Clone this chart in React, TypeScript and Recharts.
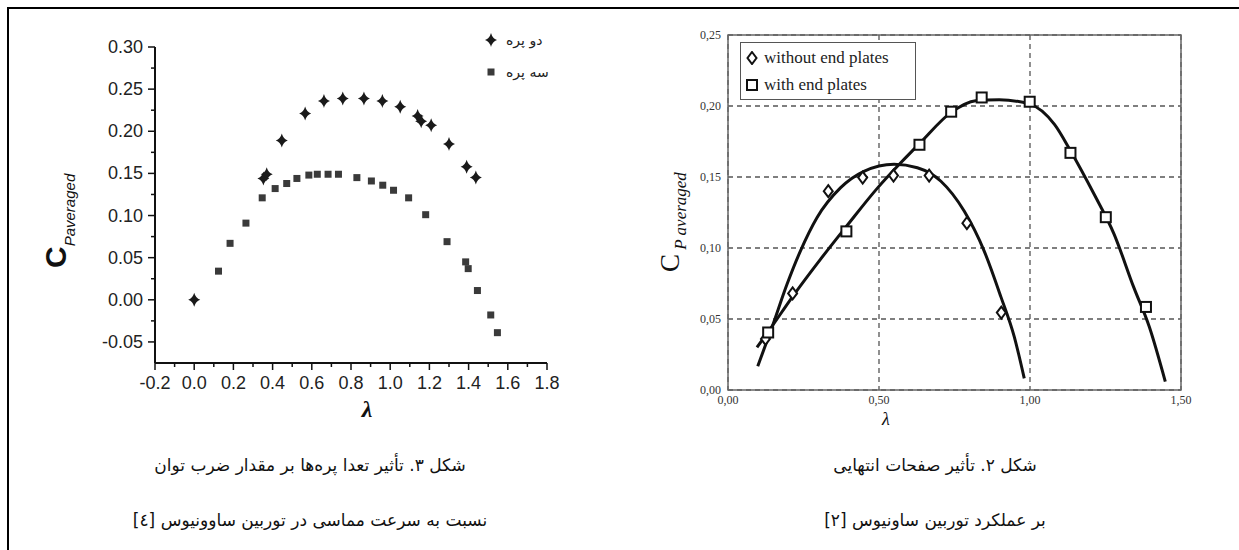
import React from "react";
import { ScatterChart, Scatter, XAxis, YAxis, CartesianGrid, ReferenceArea } from "recharts";

// شکل ۳ — two-blade vs three-blade rotor
const twoBladeLambda = [0.0, 0.353, 0.37, 0.447, 0.566, 0.662, 0.758, 0.866, 0.96, 1.051, 1.14, 1.158, 1.209, 1.3, 1.39, 1.437];
const twoBladeCp = [0.0, 0.144, 0.149, 0.189, 0.221, 0.236, 0.239, 0.239, 0.236, 0.229, 0.218, 0.212, 0.207, 0.185, 0.158, 0.145];
const threeBladeLambda = [0.124, 0.183, 0.264, 0.347, 0.413, 0.472, 0.524, 0.585, 0.628, 0.683, 0.736, 0.83, 0.904, 0.962, 1.017, 1.094, 1.181, 1.29, 1.385, 1.398, 1.445, 1.513, 1.547];
const threeBladeCp = [0.034, 0.067, 0.091, 0.121, 0.132, 0.138, 0.144, 0.148, 0.149, 0.149, 0.149, 0.145, 0.141, 0.136, 0.13, 0.121, 0.101, 0.069, 0.045, 0.037, 0.011, -0.018, -0.039];
const leftXTicks = [-0.2, -0.1, 0, 0.1, 0.2, 0.3, 0.4, 0.5, 0.6, 0.7, 0.8, 0.9, 1.0, 1.1, 1.2, 1.3, 1.4, 1.5, 1.6, 1.7, 1.8];
const leftYTicks = [-0.05, -0.025, 0, 0.025, 0.05, 0.075, 0.1, 0.125, 0.15, 0.175, 0.2, 0.225, 0.25, 0.275, 0.3];

// شکل ۲ — with / without end plates
const noPlateLambda = [0.124, 0.214, 0.332, 0.446, 0.548, 0.666, 0.791, 0.905];
const noPlateCp = [0.036, 0.068, 0.14, 0.1496, 0.151, 0.151, 0.1175, 0.0545];
const plateLambda = [0.133, 0.392, 0.634, 0.739, 0.84, 0.999, 1.134, 1.251, 1.384];
const plateCp = [0.0405, 0.1117, 0.1727, 0.196, 0.206, 0.203, 0.167, 0.1217, 0.0585];
// fitted curves
const noPlateFitLambda = [0.0985, 0.146, 0.196, 0.24, 0.295, 0.373, 0.45, 0.55, 0.627, 0.705, 0.782, 0.848, 0.904, 0.948, 0.981];
const noPlateFitCp = [0.0168, 0.0444, 0.0748, 0.098, 0.1215, 0.1425, 0.154, 0.159, 0.1565, 0.147, 0.126, 0.098, 0.0654, 0.0374, 0.0082];
const plateFitLambda = [0.096, 0.133, 0.218, 0.306, 0.395, 0.494, 0.572, 0.634, 0.739, 0.82, 0.898, 0.999, 1.081, 1.134, 1.212, 1.278, 1.343, 1.395, 1.448];
const plateFitCp = [0.03, 0.041, 0.067, 0.092, 0.116, 0.142, 0.16, 0.1735, 0.1955, 0.2037, 0.2044, 0.2013, 0.187, 0.1685, 0.138, 0.11, 0.0726, 0.0445, 0.0059];
const rightXTicks = [0, 0.5, 1.0, 1.5];
const rightYTicks = [0, 0.05, 0.1, 0.15, 0.2, 0.25];

const pts = (xs: number[], ys: number[]) => xs.map((x, i) => ({ x, y: ys[i] }));

const SANS = "Arial, 'Liberation Sans', sans-serif";
const SERIF = "'Liberation Serif', 'Times New Roman', serif";
const FA = "'DejaVu Sans', sans-serif";

function StarDiamond({ cx, cy }: any) {
  return (
    <path
      d={`M${cx},${cy - 7} Q${cx + 1.5},${cy - 1.5} ${cx + 6},${cy} Q${cx + 1.5},${cy + 1.5} ${cx},${cy + 7} Q${cx - 1.5},${cy + 1.5} ${cx - 6},${cy} Q${cx - 1.5},${cy - 1.5} ${cx},${cy - 7}Z`}
      fill="#1a1a1a"
    />
  );
}
function FilledSquare({ cx, cy }: any) {
  return <rect x={cx - 3.5} y={cy - 3.5} width={7} height={7} fill="#3a3a3a" />;
}
function HollowDiamond({ cx, cy }: any) {
  return (
    <polygon
      points={`${cx},${cy - 6} ${cx + 4.5},${cy} ${cx},${cy + 6} ${cx - 4.5},${cy}`}
      fill="#fff"
      stroke="#111"
      strokeWidth={2}
    />
  );
}
function HollowSquare({ cx, cy }: any) {
  return <rect x={cx - 5} y={cy - 5} width={10} height={10} fill="#fff" stroke="#111" strokeWidth={2} />;
}
const NoDot = () => <g />;

function LeftXTick({ x, y, payload }: any) {
  const v = payload.value;
  const major = Math.round(v * 10) % 2 === 0;
  return (
    <g>
      <line x1={x} x2={x} y1={y} y2={y + (major ? 7 : 4)} stroke="#111" strokeWidth={1.5} />
      {major && (
        <text x={x} y={y + 26} textAnchor="middle" fontFamily={SANS} fontSize={18} fill="#222">
          {v.toFixed(1)}
        </text>
      )}
    </g>
  );
}
function LeftYTick({ x, y, payload }: any) {
  const v = payload.value;
  const major = Math.round(v * 1000) % 50 === 0;
  return (
    <g>
      <line x1={x} x2={x - (major ? 7 : 4)} y1={y} y2={y} stroke="#111" strokeWidth={1.5} />
      {major && (
        <text x={x - 12} y={y + 6} textAnchor="end" fontFamily={SANS} fontSize={18} fill="#222">
          {v.toFixed(2)}
        </text>
      )}
    </g>
  );
}
function RightXTick({ x, y, payload }: any) {
  return (
    <text x={x} y={y + 14} textAnchor="middle" fontFamily={SERIF} fontSize={12} fill="#333">
      {payload.value.toFixed(2).replace(".", ",")}
    </text>
  );
}
function RightYTick({ x, y, payload }: any) {
  return (
    <text x={x - 7} y={y + 4} textAnchor="end" fontFamily={SERIF} fontSize={12} fill="#333">
      {payload.value.toFixed(2).replace(".", ",")}
    </text>
  );
}

function LeftLegend() {
  const row = { display: "flex", alignItems: "center", gap: 8, height: 32 } as const;
  return (
    <div style={{ position: "absolute", left: 484, top: 24, fontFamily: FA, fontSize: 14, color: "#222" }}>
      <div style={row}>
        <svg width={14} height={16}><StarDiamond cx={7} cy={8} /></svg>
        <span dir="rtl">دو پره</span>
      </div>
      <div style={row}>
        <svg width={14} height={16}><FilledSquare cx={7} cy={8} /></svg>
        <span dir="rtl">سه پره</span>
      </div>
    </div>
  );
}
function RightLegend() {
  const row = { display: "flex", alignItems: "center", gap: 6, height: 27 } as const;
  return (
    <div
      style={{
        position: "absolute",
        left: 740,
        top: 42,
        boxSizing: "border-box",
        width: 176,
        fontFamily: SERIF,
        fontSize: 17,
        color: "#222",
        border: "1.5px solid #555",
        background: "#fff",
        padding: "1px 6px 1px 5px",
      }}
    >
      <div style={row}>
        <svg width={12} height={14}><HollowDiamond cx={6} cy={7} /></svg>
        <span>without end plates</span>
      </div>
      <div style={row}>
        <svg width={12} height={14}><HollowSquare cx={6} cy={7} /></svg>
        <span>with end plates</span>
      </div>
    </div>
  );
}

function LeftYLabel() {
  return (
    <text transform="translate(66,268) rotate(-90)" fontFamily={SANS} fill="#111">
      <tspan fontSize={30} fontWeight="bold">C</tspan>
      <tspan fontSize={15} fontStyle="italic" dy={9}>Paveraged</tspan>
    </text>
  );
}
function RightYLabel() {
  return (
    <text transform="translate(59,272) rotate(-90)" fontFamily={SERIF} fill="#111">
      <tspan fontSize={27}>C</tspan>
      <tspan fontSize={17} fontStyle="italic" dy={7}> P averaged</tspan>
    </text>
  );
}

function captionStyle(left: number, top: number): React.CSSProperties {
  return {
    position: "absolute",
    left,
    top,
    width: 560,
    textAlign: "center",
    fontFamily: FA,
    fontSize: 17,
    color: "#111",
    direction: "rtl",
  };
}

export default function App() {
  return (
    <div style={{ position: "absolute", left: 0, top: 0, width: 1239, height: 550, background: "#fff", overflow: "hidden" }}>
      <div style={{ position: "absolute", left: 7, top: 7, width: 1232, height: 2, background: "#000" }} />
      <div style={{ position: "absolute", left: 7, top: 7, width: 2, height: 543, background: "#000" }} />

      <div style={{ position: "absolute", left: 0, top: 0 }}>
        <ScatterChart width={620} height={430} margin={{ top: 47, right: 73, bottom: 27, left: 95 }}>
          <XAxis
            type="number"
            dataKey="x"
            domain={[-0.2, 1.8]}
            ticks={leftXTicks}
            interval={0}
            tickSize={0}
            tickMargin={0}
            tickLine={false}
            axisLine={{ stroke: "#111", strokeWidth: 2 }}
            tick={<LeftXTick />}
            height={40}
            allowDataOverflow
          />
          <YAxis
            type="number"
            dataKey="y"
            domain={[-0.075, 0.3]}
            ticks={leftYTicks}
            interval={0}
            tickSize={0}
            tickMargin={0}
            tickLine={false}
            axisLine={{ stroke: "#111", strokeWidth: 2 }}
            tick={<LeftYTick />}
            width={60}
            allowDataOverflow
          />
          <Scatter data={pts(twoBladeLambda, twoBladeCp)} shape={<StarDiamond />} isAnimationActive={false} />
          <Scatter data={pts(threeBladeLambda, threeBladeCp)} shape={<FilledSquare />} isAnimationActive={false} />
        </ScatterChart>
        <svg style={{ position: "absolute", left: 0, top: 0 }} width={620} height={430}>
          <LeftYLabel />
          <text x={367} y={417} textAnchor="middle" fontFamily={SERIF} fontSize={24} fontStyle="italic" fontWeight="bold" fill="#111">
            λ
          </text>
        </svg>
      </div>
      <LeftLegend />

      <div style={{ position: "absolute", left: 620, top: 0 }}>
        <ScatterChart width={619} height={430} margin={{ top: 35, right: 58, bottom: 10, left: 68 }}>
          <CartesianGrid stroke="#555" strokeDasharray="5 4" strokeWidth={1.3} />
          <XAxis
            type="number"
            dataKey="x"
            domain={[0, 1.5]}
            ticks={rightXTicks}
            interval={0}
            tickSize={0}
            tickMargin={0}
            tickLine={false}
            axisLine={false}
            tick={<RightXTick />}
            height={30}
          />
          <YAxis
            type="number"
            dataKey="y"
            domain={[0, 0.25]}
            ticks={rightYTicks}
            interval={0}
            tickSize={0}
            tickMargin={0}
            tickLine={false}
            axisLine={false}
            tick={<RightYTick />}
            width={40}
          />
          <ReferenceArea x1={0} x2={1.5} y1={0} y2={0.25} fill="none" stroke="#666" strokeWidth={1.5} />
          <Scatter
            data={pts(noPlateFitLambda, noPlateFitCp)}
            line={{ stroke: "#111", strokeWidth: 3 }}
            lineJointType="monotoneX"
            shape={<NoDot />}
            legendType="none"
            isAnimationActive={false}
          />
          <Scatter
            data={pts(plateFitLambda, plateFitCp)}
            line={{ stroke: "#111", strokeWidth: 3 }}
            lineJointType="monotoneX"
            shape={<NoDot />}
            legendType="none"
            isAnimationActive={false}
          />
          <Scatter data={pts(noPlateLambda, noPlateCp)} shape={<HollowDiamond />} isAnimationActive={false} />
          <Scatter data={pts(plateLambda, plateCp)} shape={<HollowSquare />} isAnimationActive={false} />
        </ScatterChart>
        <svg style={{ position: "absolute", left: 0, top: 0 }} width={619} height={430}>
          <RightYLabel />
          <text x={266} y={425} textAnchor="middle" fontFamily={SERIF} fontSize={18} fontStyle="italic" fill="#111">
            λ
          </text>
        </svg>
      </div>
      <RightLegend />

      <div style={captionStyle(30, 455)}>شکل ۳. تأثیر تعدا پره‌ها بر مقدار ضرب توان</div>
      <div style={captionStyle(30, 510)}>نسبت به سرعت مماسی در توربین ساوونیوس [٤]</div>
      <div style={captionStyle(655, 455)}>شکل ۲. تأثیر صفحات انتهایی</div>
      <div style={captionStyle(655, 510)}>بر عملکرد توربین ساونیوس [۲]</div>
    </div>
  );
}
